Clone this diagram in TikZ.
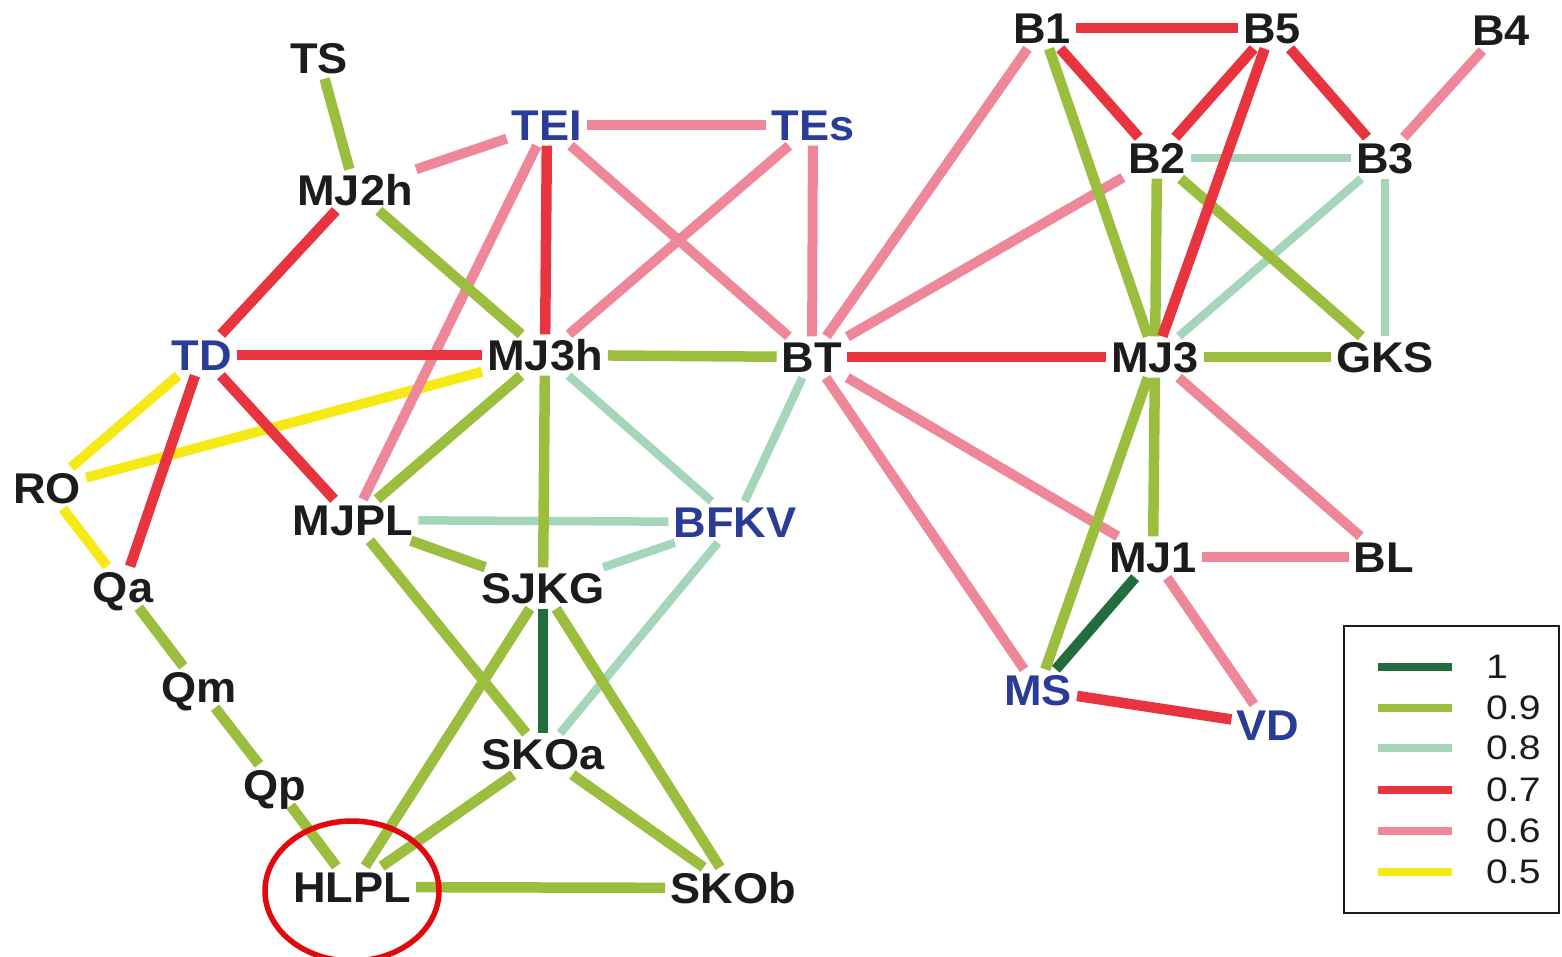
\documentclass[tikz,border=0pt]{standalone}
\usepackage{fontspec}
\setmainfont{Liberation Sans}
\newfontfamily\labelfont[FakeStretch=1.05]{Liberation Sans}
\newfontfamily\keyfont[FakeStretch=1.15]{Liberation Sans}

\definecolor{ink}{RGB}{28,28,28}
\definecolor{navy}{RGB}{42,60,150}
\definecolor{wone}{RGB}{34,108,62}
\definecolor{wnine}{RGB}{156,190,62}
\definecolor{weight}{RGB}{166,214,186}
\definecolor{wseven}{RGB}{232,52,62}
\definecolor{wsix}{RGB}{238,136,152}
\definecolor{wfive}{RGB}{246,234,22}
\definecolor{ring}{RGB}{226,8,14}

\tikzset{
  lbl/.style={font=\labelfont\bfseries\fontsize{43}{43}\selectfont, text=ink,
              inner sep=5pt, text height=31pt, text depth=0pt},
  blu/.style={lbl, text=navy},
  eone/.style={draw=wone, line width=10.5pt},
  enine/.style={draw=wnine, line width=10.5pt},
  eeight/.style={draw=weight, line width=8.5pt},
  eseven/.style={draw=wseven, line width=10.5pt},
  esix/.style={draw=wsix, line width=10pt},
  efive/.style={draw=wfive, line width=10pt},
  keyline/.style={line width=8.5pt},
  keytext/.style={font=\keyfont\fontsize{34}{34}\selectfont, text=ink, anchor=west, inner sep=0pt},
}

\begin{document}
\begin{tikzpicture}[x=1pt, y=-1pt]
\useasboundingbox (0,0) rectangle (1562,957);

% ---- left and central cluster
\node[lbl] (TS)   at (319,58)  {TS};
\node[lbl] (MJ2h) at (355,190) {MJ2h};
\node[blu] (TEI)  at (547,125) {TEI};
\node[blu] (TEs)  at (813,125) {TEs};
\node[blu] (TD)   at (202,355) {TD};
\node[lbl] (MJ3h) at (545,355) {MJ3h};
\node[lbl] (BT)   at (812,357) {BT};
\node[lbl] (RO)   at (47,488)  {RO};
\node[lbl] (MJPL) at (353,520) {MJPL};
\node[blu] (BFKV) at (735,522) {BFKV};
\node[lbl] (SJKG) at (543,588) {SJKG};
\node[lbl] (Qa)   at (123,587) {Qa};
\node[lbl] (Qm)   at (199,687) {Qm};
\node[lbl] (Qp)   at (275,785) {Qp};
\node[lbl] (SKOa) at (543,754) {SKOa};
\node[lbl] (HLPL) at (352,887) {HLPL};
\node[lbl] (SKOb) at (733,888) {SKOb};

% ---- right cluster
\node[lbl] (B1)  at (1042,28)  {B1};
\node[lbl] (B5)  at (1272,28)  {B5};
\node[lbl] (B4)  at (1501,30)  {B4};
\node[lbl] (B2)  at (1157,158) {B2};
\node[lbl] (B3)  at (1385,158) {B3};
\node[lbl] (MJ3) at (1155,357) {MJ3};
\node[lbl] (GKS) at (1385,357) {GKS};
\node[lbl] (MJ1) at (1153,557) {MJ1};
\node[lbl] (BL)  at (1384,557) {BL};
\node[blu] (MS)  at (1038,690) {MS};
\node[blu] (VD)  at (1268,725) {VD};

% ---- weight 0.5
\draw[efive] (TD) -- (RO);
\draw[efive] (RO) -- (MJ3h);
\draw[efive] (RO) -- (Qa);

% ---- weight 0.6
\draw[esix] (MJ2h) -- (TEI);
\draw[esix] (TEI) -- (TEs);
\draw[esix] (TEI) -- (BT);
\draw[esix] (TEI) -- (MJPL);
\draw[esix] (TEs) -- (MJ3h);
\draw[esix] (TEs) -- (BT);
\draw[esix] (BT) -- (B1);
\draw[esix] (BT) -- (B2);
\draw[esix] (BT) -- (MJ1);
\draw[esix] (BT) -- (MS);
\draw[esix] (B4) -- (B3);
\draw[esix] (MJ3) -- (BL);
\draw[esix] (MJ1) -- (BL);
\draw[esix] (MJ1) -- (VD);

% ---- weight 0.8
\draw[eeight] (MJ3h) -- (BFKV);
\draw[eeight] (BT) -- (BFKV);
\draw[eeight] (MJPL) -- (BFKV);
\draw[eeight] (SJKG) -- (BFKV);
\draw[eeight] (BFKV) -- (SKOa);
\draw[eeight] (B2) -- (B3);
\draw[eeight] (B3) -- (MJ3);
\draw[eeight] (B3) -- (GKS);

% ---- weight 0.9
\draw[enine] (TS) -- (MJ2h);
\draw[enine] (MJ2h) -- (MJ3h);
\draw[enine] (MJ3h) -- (BT);
\draw[enine] (MJ3h) -- (MJPL);
\draw[enine] (MJ3h) -- (SJKG);
\draw[enine] (MJPL) -- (SJKG);
\draw[enine] (MJPL) -- (SKOa);
\draw[enine] (SJKG) -- (HLPL);
\draw[enine] (SJKG) -- (SKOb);
\draw[enine] (SKOa) -- (HLPL);
\draw[enine] (SKOa) -- (SKOb);
\draw[enine] (HLPL) -- (SKOb);
\draw[enine] (Qa) -- (Qm);
\draw[enine] (Qm) -- (Qp);
\draw[enine] (Qp) -- (HLPL);
\draw[enine] (B1) -- (MJ3);
\draw[enine] (B2) -- (MJ3);
\draw[enine] (B2) -- (GKS);
\draw[enine] (MJ3) -- (GKS);
\draw[enine] (MJ3) -- (MJ1);
\draw[enine] (MJ3) -- (MS);

% ---- weight 0.7
\draw[eseven] (MJ2h) -- (TD);
\draw[eseven] (TEI) -- (MJ3h);
\draw[eseven] (TD) -- (MJ3h);
\draw[eseven] (TD) -- (Qa);
\draw[eseven] (TD) -- (MJPL);
\draw[eseven] (BT) -- (MJ3);
\draw[eseven] (B1) -- (B5);
\draw[eseven] (B1) -- (B2);
\draw[eseven] (B5) -- (B2);
\draw[eseven] (B5) -- (B3);
\draw[eseven] (B5) -- (MJ3);
\draw[eseven] (MS) -- (VD);

% ---- weight 1
\draw[eone] (SJKG) -- (SKOa);
\draw[eone] (MJ1) -- (MS);

% ---- ring around HLPL
\draw[ring, line width=5.5pt] ([yshift=-4pt]HLPL.center) ellipse (87pt and 70pt);

% ---- legend
\node[draw=ink, line width=2pt, minimum width=215pt, minimum height=287pt,
      inner sep=0pt, anchor=north west] (key) at (1343,625) {};
\foreach \col/\txt/\yy [count=\k] in {wone/1/667, wnine/0.9/708, weight/0.8/748,
                           wseven/0.7/790, wsix/0.6/831, wfive/0.5/872}{
  \coordinate (ka\k) at (1378,\yy);
  \coordinate (kb\k) at (1452,\yy);
  \draw[keyline, draw=\col] (ka\k) -- (kb\k);
  \node[keytext] (kt\k) at (1486,\yy) {\txt};
}
\end{tikzpicture}
\end{document}
